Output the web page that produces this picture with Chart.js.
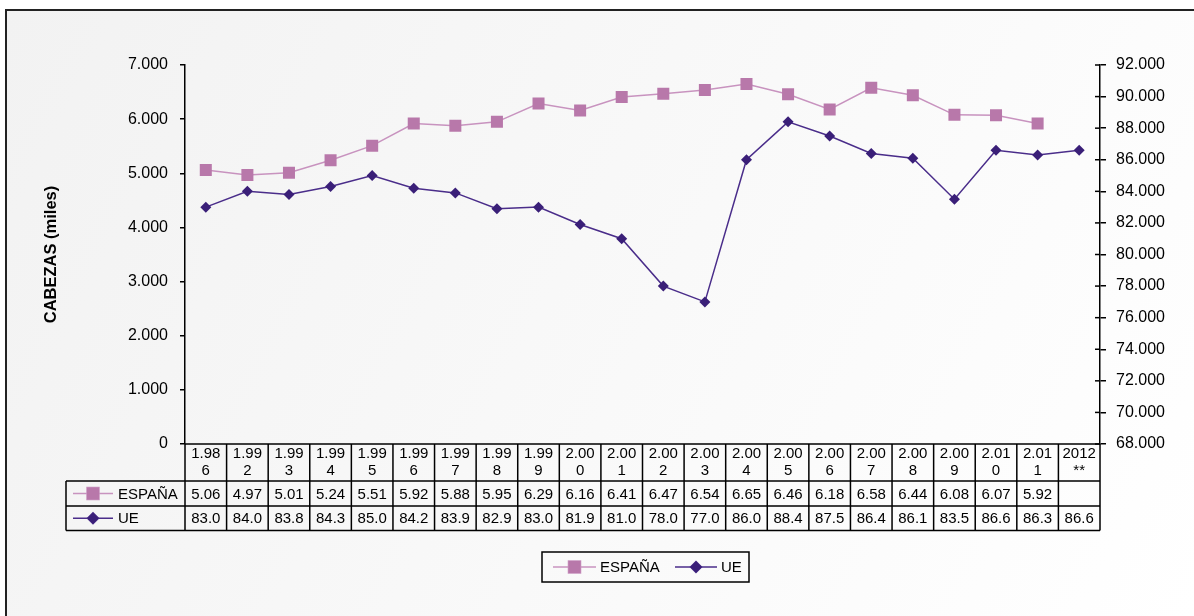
<!DOCTYPE html>
<html>
<head>
<meta charset="utf-8">
<script src="https://cdn.jsdelivr.net/npm/chart.js@4.4.1/dist/chart.umd.min.js"></script>
<style>
html, body { margin: 0; padding: 0; background: #fff; }
</style>
</head>
<body>
<canvas id="cabezas" width="1194" height="616"></canvas>
<script>
// años tal como aparecen en la tabla de datos
var years = ['1.986', '1.992', '1.993', '1.994', '1.995', '1.996', '1.997', '1.998', '1.999', '2.000', '2.001',
             '2.002', '2.003', '2.004', '2.005', '2.006', '2.007', '2.008', '2.009', '2.010', '2.011', '2012**'];
// cabezas (miles)
var espana = [5060, 4970, 5010, 5240, 5510, 5920, 5880, 5950, 6290, 6160, 6410,
              6470, 6540, 6650, 6460, 6180, 6580, 6440, 6080, 6070, 5920, null];
var ue = [83000, 84000, 83800, 84300, 85000, 84200, 83900, 82900, 83000, 81900, 81000,
          78000, 77000, 86000, 88400, 87500, 86400, 86100, 83500, 86600, 86300, 86600];
var leftTicks = [0, 1000, 2000, 3000, 4000, 5000, 6000, 7000];
var rightTicks = [68000, 70000, 72000, 74000, 76000, 78000, 80000, 82000, 84000, 86000, 88000, 90000, 92000];

var fam = '"Liberation Sans", Arial, sans-serif';

function miles(v) {
    return String(v).replace(/\B(?=(\d{3})+(?!\d))/g, '.');
}

// dibuja la muestra de la serie (línea + marcador)
function drawKey(ctx, ds, x0, x1, y) {
    ctx.save();
    ctx.strokeStyle = ds.borderColor;
    ctx.lineWidth = 1.5;
    ctx.beginPath();
    ctx.moveTo(x0, y);
    ctx.lineTo(x1, y);
    ctx.stroke();
    Chart.helpers.drawPoint(ctx, {
        pointStyle: ds.pointStyle,
        radius: ds.pointRadius,
        rotation: 0,
        borderWidth: 1
    }, (x0 + x1) / 2, y);
    ctx.fillStyle = ds.pointBackgroundColor;
    ctx.strokeStyle = ds.pointBorderColor;
    ctx.fill();
    ctx.restore();
}

const tabla = {
    id: 'tabla',
    beforeDraw(chart) {
        const ctx = chart.ctx, w = chart.width, h = chart.height;
        ctx.save();
        ctx.fillStyle = '#fff';
        ctx.fillRect(0, 0, w, h);
        const g = ctx.createLinearGradient(6, 10, w, h);
        g.addColorStop(0, '#f2f2f2');
        g.addColorStop(1, '#ffffff');
        ctx.fillStyle = g;
        ctx.fillRect(6, 10, w - 6, h - 10);
        ctx.strokeStyle = '#222';
        ctx.lineWidth = 2;
        ctx.beginPath();
        ctx.moveTo(6, h);
        ctx.lineTo(6, 10);
        ctx.lineTo(w, 10);
        ctx.stroke();
        ctx.restore();
    },
    afterDraw(chart) {
        const ctx = chart.ctx;
        const x = chart.scales.x, y2 = chart.scales.y2;
        const n = years.length;
        const cw = (x.right - x.left) / n;
        const top = chart.chartArea.bottom;
        const r1 = top + 37, r2 = r1 + 25, r3 = r2 + 24.5;
        const legL = 66;

        ctx.save();
        // marcas interiores del eje derecho
        ctx.strokeStyle = '#000';
        ctx.lineWidth = 1.5;
        rightTicks.forEach(function (v) {
            const py = y2.getPixelForValue(v);
            ctx.beginPath();
            ctx.moveTo(y2.left - 5, py);
            ctx.lineTo(y2.left, py);
            ctx.stroke();
        });

        // rejilla de la tabla
        ctx.beginPath();
        ctx.moveTo(x.left, top); ctx.lineTo(x.right, top);
        [r1, r2, r3].forEach(function (ry) { ctx.moveTo(legL, ry); ctx.lineTo(x.right, ry); });
        ctx.moveTo(legL, r1); ctx.lineTo(legL, r3);
        for (let i = 0; i <= n; i++) {
            const cx = x.left + i * cw;
            ctx.moveTo(cx, top); ctx.lineTo(cx, r3);
        }
        ctx.stroke();

        // textos
        ctx.fillStyle = '#000';
        ctx.font = '15px ' + fam;
        ctx.textAlign = 'center';
        ctx.textBaseline = 'middle';
        years.forEach(function (lab, i) {
            const cx = x.getPixelForValue(i);
            ctx.fillText(lab.slice(0, 4), cx, top + 10);
            ctx.fillText(lab.slice(4), cx, top + 27);
            if (espana[i] != null) ctx.fillText(miles(espana[i]).slice(0, 4), cx, (r1 + r2) / 2 + 1);
            if (ue[i] != null) ctx.fillText(miles(ue[i]).slice(0, 4), cx, (r2 + r3) / 2 + 1);
        });

        const dsE = chart.data.datasets[0], dsU = chart.data.datasets[1];
        drawKey(ctx, dsE, 73, 113, (r1 + r2) / 2);
        drawKey(ctx, dsU, 73, 113, (r2 + r3) / 2);
        ctx.fillStyle = '#000';
        ctx.textAlign = 'left';
        ctx.fillText(dsE.label, 118, (r1 + r2) / 2 + 1);
        ctx.fillText(dsU.label, 118, (r2 + r3) / 2 + 1);

        // leyenda inferior
        ctx.strokeStyle = '#000';
        ctx.lineWidth = 1.5;
        ctx.strokeRect(542, 552, 207, 30);
        drawKey(ctx, dsE, 553, 596, 567);
        drawKey(ctx, dsU, 675, 717, 567);
        ctx.fillStyle = '#000';
        ctx.fillText(dsE.label, 600, 568);
        ctx.fillText(dsU.label, 721, 568);
        ctx.restore();
    }
};

const ctxC = document.getElementById('cabezas');
const grafico = new Chart(ctxC, {
    type: 'line',
    data: {
        labels: years,
        datasets: [{
            label: 'ESPAÑA',
            data: espana,
            yAxisID: 'y',
            borderColor: '#c893bf',
            borderWidth: 1.5,
            pointStyle: 'rect',
            pointRadius: 8.5,
            pointBorderWidth: 0,
            pointBackgroundColor: '#b878aa',
            pointBorderColor: '#b878aa',
            tension: 0
        }, {
            label: 'UE',
            data: ue,
            yAxisID: 'y2',
            borderColor: '#4a2d8a',
            borderWidth: 1.5,
            pointStyle: 'rectRot',
            pointRadius: 5.5,
            pointBorderWidth: 0,
            pointBackgroundColor: '#3a1f78',
            pointBorderColor: '#3a1f78',
            tension: 0
        }]
    },
    options: {
        responsive: false,
        animation: false,
        layout: { padding: { top: 65, bottom: 172, left: 0, right: 0 } },
        plugins: {
            legend: { display: false },
            tooltip: { enabled: false }
        },
        scales: {
            x: {
                type: 'category',
                display: false,
                offset: true
            },
            y: {
                position: 'left',
                min: 0,
                max: 7000,
                afterBuildTicks: function (s) { s.ticks = leftTicks.map(v => ({ value: v })); },
                afterFit: function (s) { s.width = 185; },
                ticks: {
                    color: '#000',
                    padding: 12,
                    font: { family: fam, size: 16 },
                    callback: function (v) { return miles(v); }
                },
                grid: { drawOnChartArea: false, tickLength: 5, color: '#000', lineWidth: 1.5 },
                border: { color: '#000', width: 1.5 },
                title: {
                    display: true,
                    text: 'CABEZAS (miles)',
                    color: '#000',
                    font: { family: fam, size: 16.5, weight: 'bold' },
                    padding: { top: 42, bottom: 0 }
                }
            },
            y2: {
                position: 'right',
                min: 68000,
                max: 92000,
                afterBuildTicks: function (s) { s.ticks = rightTicks.map(v => ({ value: v })); },
                afterFit: function (s) { s.width = 94; },
                ticks: {
                    color: '#000',
                    padding: 10,
                    font: { family: fam, size: 16 },
                    callback: function (v) { return miles(v); }
                },
                grid: { drawOnChartArea: false, tickLength: 6, color: '#000', lineWidth: 1.5 },
                border: { color: '#000', width: 1.5 }
            }
        }
    },
    plugins: [tabla]
});
</script>
</body>
</html>
